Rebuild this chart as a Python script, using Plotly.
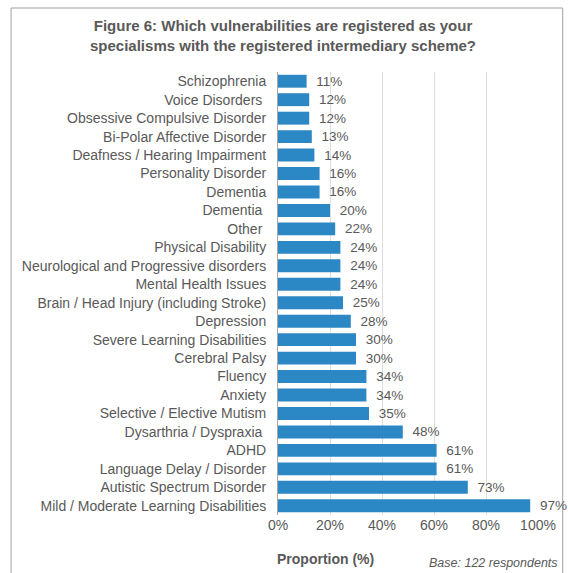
import plotly.graph_objects as go

categories = [
    "Schizophrenia", "Voice Disorders ", "Obsessive Compulsive Disorder",
    "Bi-Polar Affective Disorder", "Deafness / Hearing Impairment",
    "Personality Disorder", "Dementia", "Dementia ", "Other ",
    "Physical Disability", "Neurological and Progressive disorders",
    "Mental Health Issues", "Brain / Head Injury (including Stroke)",
    "Depression", "Severe Learning Disabilities", "Cerebral Palsy",
    "Fluency", "Anxiety", "Selective / Elective Mutism",
    "Dysarthria / Dyspraxia ", "ADHD", "Language Delay / Disorder",
    "Autistic Spectrum Disorder", "Mild / Moderate Learning Disabilities",
]
values = [11, 12, 12, 13, 14, 16, 16, 20, 22, 24, 24, 24, 25, 28, 30, 30,
          34, 34, 35, 48, 61, 61, 73, 97]
tick_vals = [0, 20, 40, 60, 80, 100]
tick_text = ["0%", "20%", "40%", "60%", "80%", "100%"]

grey = "#595959"
font_family = "Arial, Liberation Sans, sans-serif"

fig = go.Figure(go.Bar(
    x=values, y=categories, orientation="h",
    marker=dict(color="#2B88C4", line=dict(width=0)),
    text=[f"\u2002{v}%" for v in values], textposition="outside",
    textfont=dict(size=13.5, color=grey, family=font_family),
    constraintext="none",
    cliponaxis=False,
))

fig.update_layout(
    width=568, height=573,
    margin=dict(l=278, r=27, t=72, b=58),
    paper_bgcolor="white", plot_bgcolor="white",
    bargap=0.3,
    showlegend=False,
    font=dict(family=font_family, size=13, color=grey),
    title=dict(
        text="Figure 6: Which vulnerabilities are registered as your<br>specialisms with the registered intermediary scheme?",
        x=(283) / 568, xanchor="center", y=1 - 31 / 573, yanchor="middle",
        font=dict(size=15, color=grey, family=font_family, weight="bold"),
    ),
    xaxis=dict(
        range=[0, 100], tickvals=tick_vals, ticktext=tick_text,
        showgrid=True, gridcolor="#dedede", gridwidth=1,
        zeroline=False, showline=False, ticks="",
        tickfont=dict(size=14, color=grey),
    ),
    yaxis=dict(
        autorange="reversed", showline=True, linecolor="#a6a6a6", linewidth=1,
        ticks="", tickfont=dict(size=14, color=grey), ticklabelstandoff=8,
    ),
    annotations=[
        dict(text="<b>Proportion (%)</b>", xref="paper", yref="paper",
             x=(326 - 278) / 263, y=-(559 - 515) / 443, xanchor="center",
             yanchor="middle", showarrow=False,
             font=dict(size=14, color=grey)),
        dict(text="<i>Base: 122 respondents</i>", xref="paper", yref="paper",
             x=(563 - 278) / 263, y=-(563 - 515) / 443, xanchor="right",
             yanchor="middle", showarrow=False,
             font=dict(size=12.5, color=grey)),
    ],
    shapes=[
        dict(type="rect", xref="paper", yref="paper",
             x0=(8 - 278) / 263, x1=(566 - 278) / 263,
             y0=-0.3, y1=1 + (72 - 8) / 443,
             line=dict(color="#a0a0a0", width=1), fillcolor="rgba(0,0,0,0)",
             layer="below"),
    ],
)

fig.write_html(
    "out.html",
    config={"displayModeBar": False},
    post_script="document.body.style.margin='0';document.body.style.overflow='hidden';",
)
